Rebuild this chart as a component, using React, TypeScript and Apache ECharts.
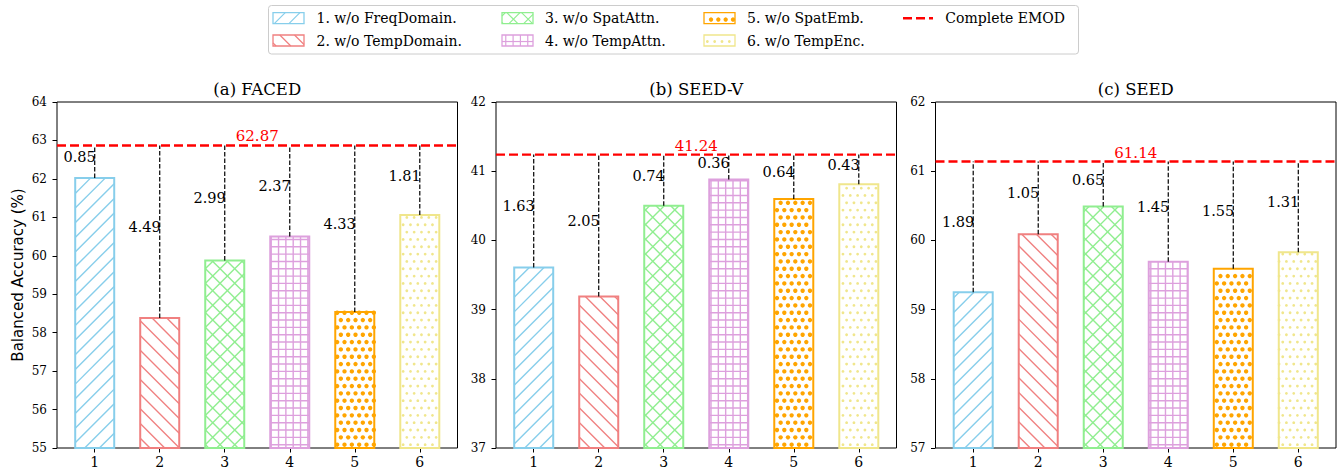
import React, { useEffect, useRef } from 'react';
import * as echarts from 'echarts';

// ---------------- data ----------------
const categories = ['1', '2', '3', '4', '5', '6'];
const legendLabels = [
  '1. w/o FreqDomain.',
  '2. w/o TempDomain.',
  '3. w/o SpatAttn.',
  '4. w/o TempAttn.',
  '5. w/o SpatEmb.',
  '6. w/o TempEnc.',
];
const completeLabel = 'Complete EMOD';
const panelTitles = ['(a) FACED', '(b) SEED-V', '(c) SEED'];
const facedValues = [62.02, 58.38, 59.88, 60.5, 58.54, 61.06];
const seedVValues = [39.61, 39.19, 40.5, 40.88, 40.6, 40.81];
const seedValues = [59.25, 60.09, 60.49, 59.69, 59.59, 59.83];
const completeValues = [62.87, 41.24, 61.14];
const yMins = [55, 37, 57];
const yMaxs = [64, 42, 62];
const yAxisName = 'Balanced Accuracy (%)';

const panelValues = [facedValues, seedVValues, seedValues];

// ---------------- styles / layout ----------------
const colors = ['#87CEEB', '#F08080', '#90EE90', '#DDA0DD', '#FFA500', '#F0E68C'];
const hatchKinds = ['ne', 'nw', 'x', 'grid', 'circ', 'dot'];
const SERIF = '"DejaVu Serif", serif';
const SANS = '"DejaVu Sans", sans-serif';
const FIG_H = 474;
const S1 = 14.67;
const S2 = 7.33;
const gridLefts = [57, 496, 935.5];
const gridTop = 102;
const gridW = 400.5;
const gridH = 346;

function txtStyle(text: string, size: number, family: string, fill: string, align: string, vAlign: string) {
  return {
    text,
    fill,
    font: `${size}px ${family}`,
    fontSize: size,
    fontFamily: family,
    align,
    textAlign: align,
    verticalAlign: vAlign,
    textVerticalAlign: vAlign,
  };
}

function hatch(kind: string, x0: number, y0: number, x1: number, y1: number, color: string, lw: number) {
  const out: any[] = [];
  const ls = { stroke: color, lineWidth: lw, fill: null };
  const L = (ax: number, ay: number, bx: number, by: number) =>
    out.push({ type: 'line', silent: true, shape: { x1: ax, y1: ay, x2: bx, y2: by }, style: ls });
  if (kind === 'ne' || kind === 'x') {
    const k0 = Math.ceil((x0 + y0 - FIG_H) / S1);
    const k1 = Math.floor((x1 + y1 - FIG_H) / S1);
    for (let k = k0; k <= k1; k++) {
      const c = FIG_H + k * S1;
      const xa = Math.max(x0, c - y1);
      const xb = Math.min(x1, c - y0);
      if (xb - xa > 0.3) L(xa, c - xa, xb, c - xb);
    }
  }
  if (kind === 'nw' || kind === 'x') {
    const k0 = Math.ceil((x0 - y1 + FIG_H) / S1);
    const k1 = Math.floor((x1 - y0 + FIG_H) / S1);
    for (let k = k0; k <= k1; k++) {
      const c = k * S1 - FIG_H;
      const xa = Math.max(x0, c + y0);
      const xb = Math.min(x1, c + y1);
      if (xb - xa > 0.3) L(xa, xa - c, xb, xb - c);
    }
  }
  if (kind === 'grid') {
    for (let k = Math.ceil(x0 / S2); k <= Math.floor(x1 / S2); k++) {
      L(k * S2, y0, k * S2, y1);
    }
    for (let k = Math.ceil((FIG_H - y1) / S2); k <= Math.floor((FIG_H - y0) / S2); k++) {
      const y = FIG_H - k * S2;
      L(x0, y, x1, y);
    }
  }
  if (kind === 'circ' || kind === 'dot') {
    const rad = kind === 'circ' ? 2.2 : 1.4;
    for (let r = Math.ceil((FIG_H - y1) / S2); r <= Math.floor((FIG_H - y0) / S2); r++) {
      const y = FIG_H - r * S2;
      const off = Math.abs(r) % 2 === 1 ? 0.5 : 0;
      for (let k = Math.ceil(x0 / S2 - off); k <= Math.floor(x1 / S2 - off); k++) {
        const x = (k + off) * S2;
        out.push({ type: 'circle', silent: true, shape: { cx: x, cy: y, r: rad }, style: { fill: color, stroke: null } });
      }
    }
  }
  return out;
}

function barRenderer(p: number) {
  return (params: any, api: any) => {
    const i = params.dataIndex;
    const xv = api.value(0);
    const v = api.value(1);
    const tl = api.coord([xv - 0.3, v]);
    const br = api.coord([xv + 0.3, yMins[p]]);
    const top = api.coord([xv, v]);
    const line = api.coord([xv, completeValues[p]]);
    const x0 = tl[0], y0 = tl[1], x1 = br[0], y1 = br[1];
    const cx = top[0];
    const color = colors[i];
    const diff = (Math.round((completeValues[p] - v) * 100) / 100).toFixed(2);
    const children: any[] = [
      { type: 'rect', silent: true, shape: { x: x0, y: y0, width: x1 - x0, height: y1 - y0 }, style: { fill: '#ffffff', stroke: null } },
      ...hatch(hatchKinds[i], x0, y0, x1, y1, color, 1.4),
      { type: 'rect', silent: true, shape: { x: x0, y: y0, width: x1 - x0, height: y1 - y0 }, style: { fill: null, stroke: color, lineWidth: 2 } },
      { type: 'line', silent: true, shape: { x1: cx, y1: y0, x2: cx, y2: line[1] }, style: { stroke: '#000', lineWidth: 1.2, lineDash: [4.5, 2] } },
      { type: 'text', silent: true, x: cx + 1, y: (y0 + line[1]) / 2 - 4.5, style: txtStyle(diff, 14.5, SERIF, '#000', 'right', 'middle') },
    ];
    return { type: 'group', children };
  };
}

function completeRenderer(p: number) {
  return (params: any, api: any) => {
    const cs = params.coordSys;
    const y = api.coord([3.5, api.value(1)])[1];
    const cx = cs.x + cs.width / 2;
    return {
      type: 'group',
      children: [
        { type: 'line', silent: true, shape: { x1: cs.x, y1: y, x2: cs.x + cs.width, y2: y }, style: { stroke: '#ff0000', lineWidth: 2.4, lineDash: [9, 4] } },
        { type: 'text', silent: true, x: cx, y: y - 1.5, style: txtStyle(completeValues[p].toFixed(2), 15, SERIF, '#ff0000', 'center', 'bottom') },
      ],
    };
  };
}

function buildLegend() {
  const els: any[] = [];
  els.push({ type: 'rect', shape: { x: 268.5, y: 5.5, width: 810, height: 48.5, r: 3 }, style: { fill: '#ffffff', stroke: '#cccccc', lineWidth: 1 } });
  const patchX = [273, 502, 704];
  const textX = [316.5, 545, 747];
  const patchY = [12.7, 35];
  const textY = [17.8, 40.8];
  legendLabels.forEach((lab, i) => {
    const col = Math.floor(i / 2);
    const row = i % 2;
    const x0 = patchX[col], y0 = patchY[row], x1 = x0 + 31, y1 = y0 + 11;
    els.push({ type: 'rect', shape: { x: x0, y: y0, width: 31, height: 11 }, style: { fill: '#ffffff', stroke: null } });
    els.push(...hatch(hatchKinds[i], x0, y0, x1, y1, colors[i], 1.2));
    els.push({ type: 'rect', shape: { x: x0, y: y0, width: 31, height: 11 }, style: { fill: null, stroke: colors[i], lineWidth: 1.3 } });
    els.push({ type: 'text', x: textX[col], y: textY[row], style: txtStyle(lab, 14, SERIF, '#000', 'left', 'middle') });
  });
  els.push({ type: 'line', shape: { x1: 903, y1: 18.3, x2: 933, y2: 18.3 }, style: { stroke: '#ff0000', lineWidth: 2.4, lineDash: [9, 4] } });
  els.push({ type: 'text', x: 945.3, y: 17.8, style: txtStyle(completeLabel, 14, SERIF, '#000', 'left', 'middle') });
  return els;
}

export default function App() {
  const ref = useRef<HTMLDivElement>(null);
  useEffect(() => {
    if (!ref.current) return;
    document.body.style.margin = '0';
    const chart = echarts.init(ref.current, undefined, { renderer: 'svg' });
    const grids: any[] = [];
    const xAxes: any[] = [];
    const yAxes: any[] = [];
    const series: any[] = [];
    const graphics: any[] = [...buildLegend()];
    for (let p = 0; p < 3; p++) {
      grids.push({ left: gridLefts[p], top: gridTop, width: gridW, height: gridH, show: true, borderColor: '#000', borderWidth: 1, backgroundColor: '#fff', containLabel: false });
      xAxes.push({
        gridIndex: p,
        type: 'value',
        min: 0.42,
        max: 6.58,
        splitLine: { show: false },
        axisLine: { show: false },
        axisTick: { show: true, customValues: [1, 2, 3, 4, 5, 6], length: 4.5, lineStyle: { color: '#000', width: 1 } },
        axisLabel: {
          customValues: [1, 2, 3, 4, 5, 6],
          fontFamily: SERIF,
          fontSize: 14,
          color: '#000',
          margin: 7,
          formatter: (v: number) => categories[Math.round(v) - 1],
        },
      });
      yAxes.push({
        gridIndex: p,
        type: 'value',
        min: yMins[p],
        max: yMaxs[p],
        interval: 1,
        splitLine: { show: false },
        axisLine: { show: false },
        axisTick: { show: true, length: 4.5, lineStyle: { color: '#000', width: 1 } },
        axisLabel: { fontFamily: SERIF, fontSize: 12, color: '#000', margin: 10 },
      });
      series.push({
        type: 'custom',
        xAxisIndex: p,
        yAxisIndex: p,
        z: 2,
        data: panelValues[p].map((v, j) => [j + 1, v]),
        renderItem: barRenderer(p),
      });
      series.push({
        type: 'custom',
        xAxisIndex: p,
        yAxisIndex: p,
        z: 3,
        data: [[3.5, completeValues[p]]],
        renderItem: completeRenderer(p),
      });
      graphics.push({
        type: 'text',
        x: gridLefts[p] + gridW / 2,
        y: 89.5,
        style: txtStyle(panelTitles[p], 16.5, SERIF, '#000', 'center', 'middle'),
      });
    }
    graphics.push({
      type: 'text',
      x: 18,
      y: gridTop + gridH / 2,
      rotation: Math.PI / 2,
      style: txtStyle(yAxisName, 15, SANS, '#000', 'center', 'middle'),
    });
    chart.setOption({
      animation: false,
      backgroundColor: '#ffffff',
      grid: grids,
      xAxis: xAxes,
      yAxis: yAxes,
      series,
      graphic: { elements: graphics },
    });
    return () => chart.dispose();
  }, []);
  return <div ref={ref} style={{ position: 'fixed', left: 0, top: 0, width: 1342, height: 474 }} />;
}
